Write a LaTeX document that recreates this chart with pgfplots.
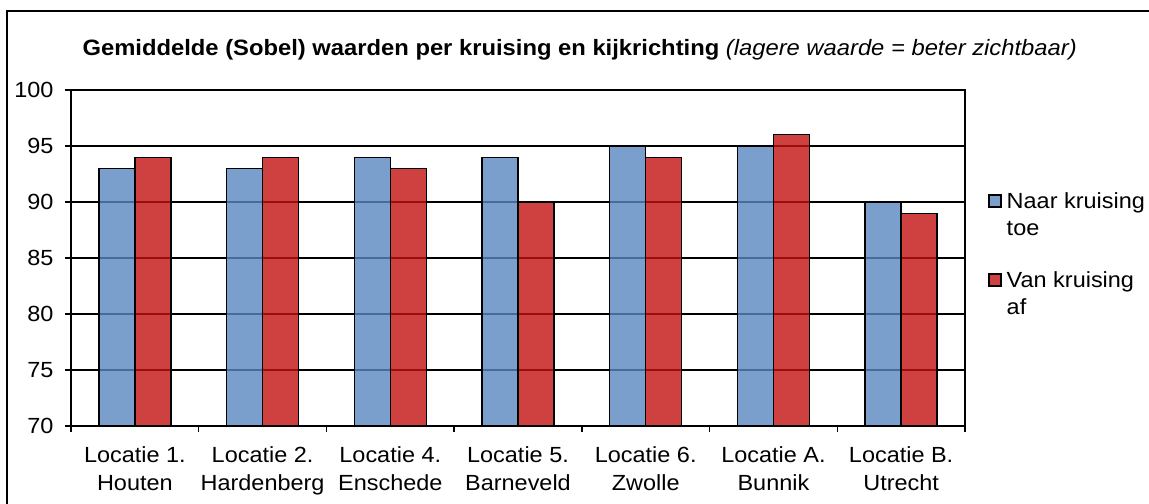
\documentclass[border=0pt]{standalone}
\usepackage{fontspec}
\setmainfont{Liberation Sans}[FakeStretch=1.07]
\usepackage{pgfplots}
\pgfplotsset{compat=1.18}
\definecolor{cblue}{RGB}{90,136,192}
\definecolor{cred}{RGB}{196,18,18}
\begin{document}
\begin{tikzpicture}
\useasboundingbox (0bp,0bp) rectangle (1149bp,504bp);
\fill[white] (0bp,0bp) rectangle (1149bp,504bp);
\draw[line width=1.5bp] (7bp,-10bp) -- (7bp,493bp) -- (1170bp,493bp);
\begin{axis}[
  at={(71bp,78bp)}, anchor=south west,
  scale only axis, width=894bp, height=336bp,
  xmin=-0.5, xmax=6.5, ymin=70, ymax=100,
  ybar=0pt, bar width=36bp,
  ytick={70,75,...,100},
  xtick={-0.5,0.5,...,6.5}, xticklabels={},
  extra x ticks={0,1,2,3,4,5,6},
  extra x tick labels={{Locatie 1.\\Houten},{Locatie 2.\\Hardenberg},{Locatie 4.\\Enschede},{Locatie 5.\\Barneveld},{Locatie 6.\\Zwolle},{Locatie A.\\Bunnik},{Locatie B.\\Utrecht}},
  extra x tick style={major tick length=0pt, xticklabel style={align=center, font=\fontsize{22}{28}\selectfont, yshift=-17bp}},
  tick pos=left, tick align=outside, major tick length=6bp,
  axis line style={line width=1.3bp, black},
  every tick/.style={black, line width=1.3bp},
  ymajorgrids, grid style={black, line width=1.3bp},
  /pgf/number format/assume math mode=true,
  yticklabel style={font=\fontsize{22}{27}\selectfont, xshift=-8bp},
  title={\textbf{Gemiddelde (Sobel) waarden per kruising en kijkrichting} \textit{(lagere waarde = beter zichtbaar)}},
  title style={font=\fontsize{22.3}{27}\selectfont, at={(0.569,1)}, anchor=base, yshift=29bp},
  legend style={draw=none, fill=none, at={(1.026,0.711)}, anchor=north west, font=\fontsize{22}{27}\selectfont, row sep=28bp, inner sep=0pt, nodes={inner xsep=5bp}},
  legend cell align=left,
  legend image code/.code={\draw[#1] (0bp,6bp) rectangle (12bp,18bp);},
]
\addplot[fill=cblue, fill opacity=0.8, draw=black, line width=1.3bp] coordinates {(0,93)(1,93)(2,94)(3,94)(4,95)(5,95)(6,90)};
\addplot[fill=cred, fill opacity=0.8, draw=black, line width=1.3bp] coordinates {(0,94)(1,94)(2,93)(3,90)(4,94)(5,96)(6,89)};
\legend{{\begin{tabular}[b]{@{}l@{}}Naar kruising\\toe\end{tabular}},{\begin{tabular}[b]{@{}l@{}}Van kruising\\af\end{tabular}}}
\end{axis}
\end{tikzpicture}
\end{document}
